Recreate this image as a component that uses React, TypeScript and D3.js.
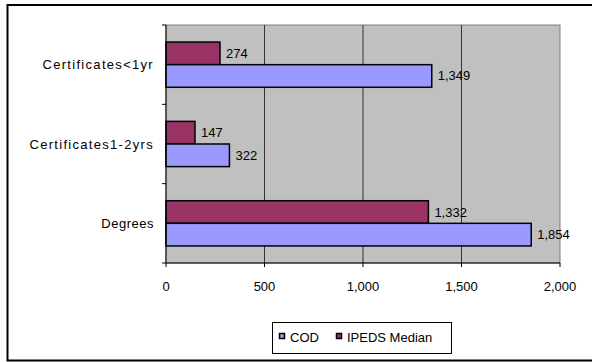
import React from "react";
import * as d3 from "d3";

const categories = ["Certificates<1yr", "Certificates1-2yrs", "Degrees"];
const seriesNames = ["IPEDS Median", "COD"];
const codValues = [1349, 322, 1854];
const ipedsValues = [274, 147, 1332];
const xTicks = [0, 500, 1000, 1500, 2000];

const colors: Record<string, string> = { COD: "#9999FF", "IPEDS Median": "#993366" };

export default function App() {
  const W = 592, H = 362;
  const left = 166, right = 560, top = 25, bottom = 263;
  const x = d3.scaleLinear().domain([0, 2000]).range([left, right]);
  const y = d3.scaleBand().domain(categories).range([top, bottom]).paddingInner(0.43).paddingOuter(0.215);
  const inner = d3.scaleBand().domain(seriesNames).range([0, y.bandwidth()]);
  const fmt = d3.format(",");
  const font = "'Liberation Sans', Arial, sans-serif";
  const fs = 13;
  const valuesFor: Record<string, number[]> = { COD: codValues, "IPEDS Median": ipedsValues };
  const bandStep = (bottom - top) / categories.length;

  return (
    <svg width={W} height={H} style={{ position: "absolute", left: 0, top: 0 }} fontFamily={font}>
      <rect x={0} y={0} width={W} height={H} fill="#fff" />
      {/* chart frame */}
      <path d={`M${W + 2},5 H7.5 V360.5 H${W + 2}`} fill="none" stroke="#000" strokeWidth={2} />
      {/* plot area */}
      <rect x={left} y={top} width={right - left} height={bottom - top} fill="#C0C0C0" stroke="#808080" strokeWidth={1} />
      {xTicks.slice(1, -1).map((t) => (
        <line key={t} x1={x(t)} x2={x(t)} y1={top} y2={bottom} stroke="#333" strokeWidth={1} />
      ))}
      {/* bars */}
      {categories.map((c, i) =>
        seriesNames.map((s) => {
          const v = valuesFor[s][i];
          const by = (y(c) as number) + (inner(s) as number);
          return (
            <g key={c + s}>
              <rect x={x(0)} y={by} width={x(v) - x(0)} height={inner.bandwidth()} fill={colors[s]} stroke="#000" strokeWidth={1.5} />
              <text x={x(v) + 6} y={by + inner.bandwidth() / 2 + 4.5} fontSize={fs} fill="#000">{fmt(v)}</text>
            </g>
          );
        })
      )}
      {/* y axis */}
      <line x1={left} x2={left} y1={top} y2={bottom} stroke="#000" />
      {d3.range(categories.length + 1).map((i) => (
        <line key={i} x1={left - 4} x2={left} y1={top + i * bandStep} y2={top + i * bandStep} stroke="#000" />
      ))}
      {categories.map((c) => (
        <text key={c} x={154} y={(y(c) as number) + y.bandwidth() / 2 + 4.5} fontSize={fs}
          letterSpacing={c.startsWith("Cert") ? 1.3 : 0.5} textAnchor="end">{c}</text>
      ))}
      {/* x axis */}
      <line x1={left} x2={right} y1={bottom} y2={bottom} stroke="#000" />
      {xTicks.map((t) => (
        <g key={t}>
          <line x1={x(t)} x2={x(t)} y1={bottom} y2={bottom + 4} stroke="#000" />
          <text x={x(t)} y={290.5} fontSize={fs} textAnchor="middle">{fmt(t)}</text>
        </g>
      ))}
      {/* legend */}
      <rect x={272.5} y={322.5} width={179} height={31} fill="#fff" stroke="#000" strokeWidth={1} />
      {["COD", "IPEDS Median"].map((s, i) => {
        const lx = i === 0 ? 279 : 336;
        return (
          <g key={s}>
            <rect x={lx + 0.5} y={333.5} width={5} height={5} fill={colors[s]} stroke="#000" strokeWidth={1.5} />
            <text x={lx + 11} y={341.5} fontSize={fs}>{s}</text>
          </g>
        );
      })}
    </svg>
  );
}
